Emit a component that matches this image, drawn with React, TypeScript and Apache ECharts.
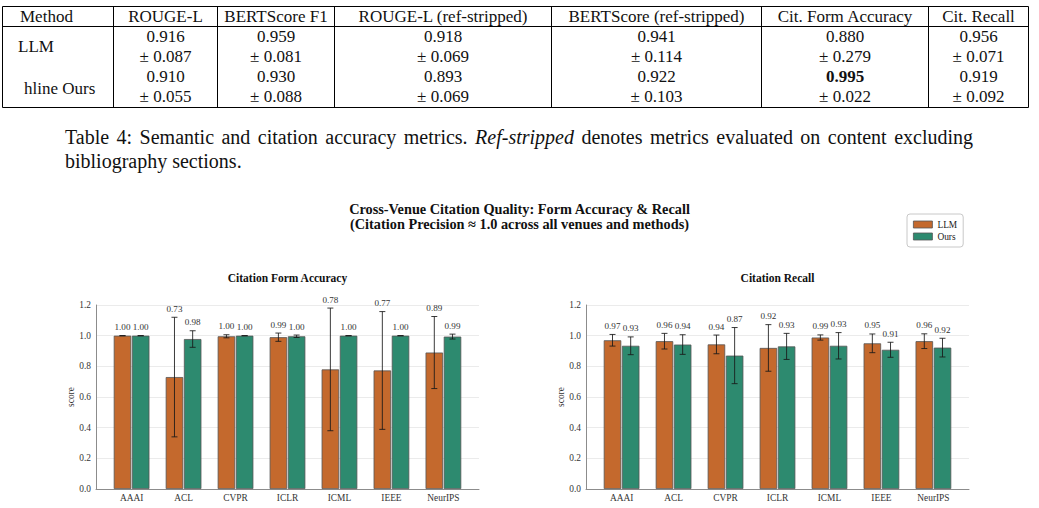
import React, { useEffect, useRef } from 'react';
import * as echarts from 'echarts';

// ---------- Table data ----------
const tableHeaders = ['Method', 'ROUGE-L', 'BERTScore F1', 'ROUGE-L (ref-stripped)', 'BERTScore (ref-stripped)', 'Cit. Form Accuracy', 'Cit. Recall'];
const tableMethods = ['LLM', 'hline Ours'];
const llmMeans = ['0.916', '0.959', '0.918', '0.941', '0.880', '0.956'];
const llmStds = ['0.087', '0.081', '0.069', '0.114', '0.279', '0.071'];
const oursMeans = ['0.910', '0.930', '0.893', '0.922', '0.995', '0.919'];
const oursStds = ['0.055', '0.088', '0.069', '0.103', '0.022', '0.092'];
const boldOursMeanCol = 4;

const captionLine1 = [
  { t: 'Table', i: false }, { t: '4:', i: false }, { t: 'Semantic', i: false }, { t: 'and', i: false },
  { t: 'citation', i: false }, { t: 'accuracy', i: false }, { t: 'metrics.', i: false }, { t: 'Ref-stripped', i: true },
  { t: 'denotes', i: false }, { t: 'metrics', i: false }, { t: 'evaluated', i: false }, { t: 'on', i: false },
  { t: 'content', i: false }, { t: 'excluding', i: false },
];
const captionLine2 = 'bibliography sections.';

// ---------- Chart data ----------
const suptitle = 'Cross-Venue Citation Quality: Form Accuracy & Recall\n(Citation Precision \u2248 1.0 across all venues and methods)';
const subTitles = ['Citation Form Accuracy', 'Citation Recall'];
const methods = ['LLM', 'Ours'];
const venues = ['AAAI', 'ACL', 'CVPR', 'ICLR', 'ICML', 'IEEE', 'NeurIPS'];

const formLLM = [1.0, 0.73, 0.996, 0.99, 0.78, 0.773, 0.89];
const formLLMErr = [0, 0.39, 0.01, 0.027, 0.40, 0.384, 0.235];
const formOurs = [1.0, 0.978, 1.0, 0.996, 1.0, 1.0, 0.994];
const formOursErr = [0, 0.054, 0, 0.008, 0, 0, 0.016];

const recallLLM = [0.97, 0.964, 0.943, 0.92, 0.988, 0.95, 0.964];
const recallLLMErr = [0.038, 0.051, 0.061, 0.152, 0.017, 0.061, 0.048];
const recallOurs = [0.934, 0.942, 0.87, 0.93, 0.934, 0.908, 0.922];
const recallOursErr = [0.058, 0.064, 0.183, 0.085, 0.086, 0.049, 0.061];

const yTicks = { min: 0, max: 1.2, interval: 0.2 };

// ---------- Styles ----------
const SERIF = '"Liberation Serif", "Times New Roman", Times, serif';
const COLORS = ['#c4692d', '#2d8a6f'];
const INK = '#111';
const AXIS_TEXT = '#333';
const SMALL = 9.4;
const VALUE_FS = 9.1;

function measureText(text: string, font: string): number {
  const c = document.createElement('canvas');
  const ctx = c.getContext('2d')!;
  ctx.font = font;
  return ctx.measureText(text).width;
}

function buildTable(): any[] {
  const els: any[] = [];
  const colEdges = [2.5, 113.5, 217.5, 334.5, 551.5, 761.5, 928.5, 1028.5];
  const top = 6.5, headerBottom = 26.5, bottom = 107.5;
  const line = (x1: number, y1: number, x2: number, y2: number) => ({
    type: 'line', silent: true,
    shape: { x1, y1, x2, y2 },
    style: { stroke: '#000', lineWidth: 1 },
  });
  [top, headerBottom, bottom].forEach((y) => els.push(line(colEdges[0], y, colEdges[colEdges.length - 1], y)));
  colEdges.forEach((x) => els.push(line(x, top, x, bottom)));
  const txt = (text: string, x: number, y: number, align: string, bold = false) => ({
    type: 'text', silent: true, x, y,
    style: { text, fontSize: 17, fontFamily: SERIF, fontWeight: bold ? 'bold' : 'normal', fill: INK, align, verticalAlign: 'middle' },
  });
  const headerY = 16;
  els.push(txt(tableHeaders[0], 20, headerY, 'left'));
  for (let c = 1; c < tableHeaders.length; c++) {
    const cx = (colEdges[c] + colEdges[c + 1]) / 2;
    els.push(txt(tableHeaders[c], cx, headerY, 'center'));
  }
  els.push(txt(tableMethods[0], 18, 46, 'left'));
  els.push(txt(tableMethods[1], 24, 88, 'left'));
  const rowY = [36.5, 56, 76, 96.5];
  for (let c = 0; c < llmMeans.length; c++) {
    const cx = (colEdges[c + 1] + colEdges[c + 2]) / 2;
    els.push(txt(llmMeans[c], cx, rowY[0], 'center'));
    els.push(txt('\u00b1 ' + llmStds[c], cx, rowY[1], 'center'));
    els.push(txt(oursMeans[c], cx, rowY[2], 'center', c === boldOursMeanCol));
    els.push(txt('\u00b1 ' + oursStds[c], cx, rowY[3], 'center'));
  }
  return els;
}

function buildCaption(): any[] {
  const els: any[] = [];
  const fs = 20;
  const x0 = 65, x1 = 973;
  const widths = captionLine1.map((w) => measureText(w.t, `${w.i ? 'italic ' : ''}${fs}px "Liberation Serif"`));
  const total = widths.reduce((a, b) => a + b, 0);
  const gap = (x1 - x0 - total) / (captionLine1.length - 1);
  let x = x0;
  captionLine1.forEach((w, k) => {
    els.push({
      type: 'text', silent: true, x, y: 137,
      style: { text: w.t, fontSize: fs, fontFamily: SERIF, fontStyle: w.i ? 'italic' : 'normal', fill: INK, align: 'left', verticalAlign: 'middle' },
    });
    x += widths[k] + gap;
  });
  els.push({
    type: 'text', silent: true, x: x0, y: 161,
    style: { text: captionLine2, fontSize: fs, fontFamily: SERIF, fill: INK, align: 'left', verticalAlign: 'middle' },
  });
  return els;
}

function buildOption(): any {
  const grids = [
    { left: 96, top: 305, width: 383, height: 184 },
    { left: 586, top: 305, width: 383, height: 184 },
  ];
  const titleCenters = [96 + 383 / 2, 586 + 383 / 2];
  const barSets = [
    [[formLLM, formLLMErr], [formOurs, formOursErr]],
    [[recallLLM, recallLLMErr], [recallOurs, recallOursErr]],
  ];
  const barOffset = 0.175;
  const series: any[] = [];
  barSets.forEach((set, s) => {
    set.forEach(([vals, errs], m) => {
      const off = m === 0 ? -barOffset : barOffset;
      series.push({
        type: 'bar', name: methods[m], xAxisIndex: s, yAxisIndex: s,
        data: vals.map((v, k) => [k + off, v]),
        barWidth: 17.5, barGap: '-100%',
        itemStyle: { color: COLORS[m], borderColor: '#555', borderWidth: 0.8 },
        emphasis: { disabled: true }, z: 2,
      });
      series.push({
        type: 'custom', name: methods[m] + ' err', xAxisIndex: s, yAxisIndex: s, clip: false, z: 5,
        silent: true,
        data: vals.map((v, k) => [k + off, v, errs[k]]),
        encode: { x: 0, y: 1 },
        renderItem: (params: any, api: any) => {
          const x = api.value(0), mean = api.value(1), e = api.value(2);
          const topP = api.coord([x, mean + e]);
          const botP = api.coord([x, mean - e]);
          const cap = 3;
          const ls = { stroke: 'rgba(25,25,25,0.85)', lineWidth: 1 };
          return {
            type: 'group',
            children: [
              { type: 'line', shape: { x1: topP[0], y1: topP[1], x2: botP[0], y2: botP[1] }, style: ls },
              { type: 'line', shape: { x1: topP[0] - cap, y1: topP[1], x2: topP[0] + cap, y2: topP[1] }, style: ls },
              { type: 'line', shape: { x1: botP[0] - cap, y1: botP[1], x2: botP[0] + cap, y2: botP[1] }, style: ls },
              {
                type: 'text', x: topP[0], y: topP[1] - 8.5,
                style: { text: vals[params.dataIndex].toFixed(2), align: 'center', verticalAlign: 'middle', fontSize: VALUE_FS, fontFamily: SERIF, fill: AXIS_TEXT },
              },
            ],
          };
        },
      });
    });
  });

  return {
    animation: false,
    backgroundColor: '#fff',
    textStyle: { fontFamily: SERIF },
    title: [
      {
        text: suptitle, left: 519.5, top: 201.5, padding: 0, textAlign: 'center',
        textStyle: { fontSize: 14.3, fontWeight: 'bold', fontFamily: SERIF, color: INK, lineHeight: 15 },
      },
      ...subTitles.map((t, s) => ({
        text: t, left: titleCenters[s], top: 271.5, padding: 0, textAlign: 'center',
        textStyle: { fontSize: 11.5, fontWeight: 'bold', fontFamily: SERIF, color: INK, lineHeight: 13 },
      })),
    ],
    legend: {
      data: methods, orient: 'vertical', left: 907, top: 214,
      padding: [5, 6, 5, 6], itemGap: 1, itemWidth: 19, itemHeight: 7, icon: 'rect',
      backgroundColor: '#fff', borderColor: '#c8c8c8', borderWidth: 1, borderRadius: 3,
      itemStyle: { borderColor: '#555', borderWidth: 0.8 },
      textStyle: { fontSize: SMALL, fontFamily: SERIF, color: '#222', lineHeight: 11 },
      selectedMode: false,
    },
    grid: grids.map((g) => ({ ...g, containLabel: false, outerBoundsMode: 'none' })),
    xAxis: grids.map((_, s) => ({
      type: 'value', gridIndex: s, min: -0.685, max: 6.685,
      axisLine: { show: true, onZero: false, lineStyle: { color: '#8c8c8c', width: 1 } },
      axisTick: { show: false },
      splitLine: { show: false },
      axisLabel: {
        customValues: venues.map((_, k) => k),
        formatter: (v: number) => venues[Math.round(v)] ?? '',
        margin: 4, fontSize: SMALL, color: AXIS_TEXT, fontFamily: SERIF,
      },
    })),
    yAxis: grids.map((_, s) => ({
      type: 'value', gridIndex: s, min: yTicks.min, max: yTicks.max, interval: yTicks.interval,
      name: 'score', nameLocation: 'middle', nameGap: 19,
      nameTextStyle: { fontSize: SMALL, color: AXIS_TEXT, fontFamily: SERIF },
      axisLine: { show: true, onZero: false, lineStyle: { color: '#8c8c8c', width: 1 } },
      axisTick: { show: false },
      splitLine: { show: true, lineStyle: { color: '#ebebeb', width: 1 } },
      axisLabel: { formatter: (v: number) => v.toFixed(1), margin: 5, fontSize: SMALL, color: AXIS_TEXT, fontFamily: SERIF },
    })),
    series,
    graphic: { elements: [...buildTable(), ...buildCaption()] },
  };
}

export default function App() {
  const ref = useRef<HTMLDivElement>(null);
  useEffect(() => {
    const chart = echarts.init(ref.current!, null, { renderer: 'svg' });
    chart.setOption(buildOption());
    return () => chart.dispose();
  }, []);
  return (
    <div
      ref={ref}
      style={{ position: 'absolute', left: 0, top: 0, width: 1039, height: 508, background: '#fff' }}
    />
  );
}
